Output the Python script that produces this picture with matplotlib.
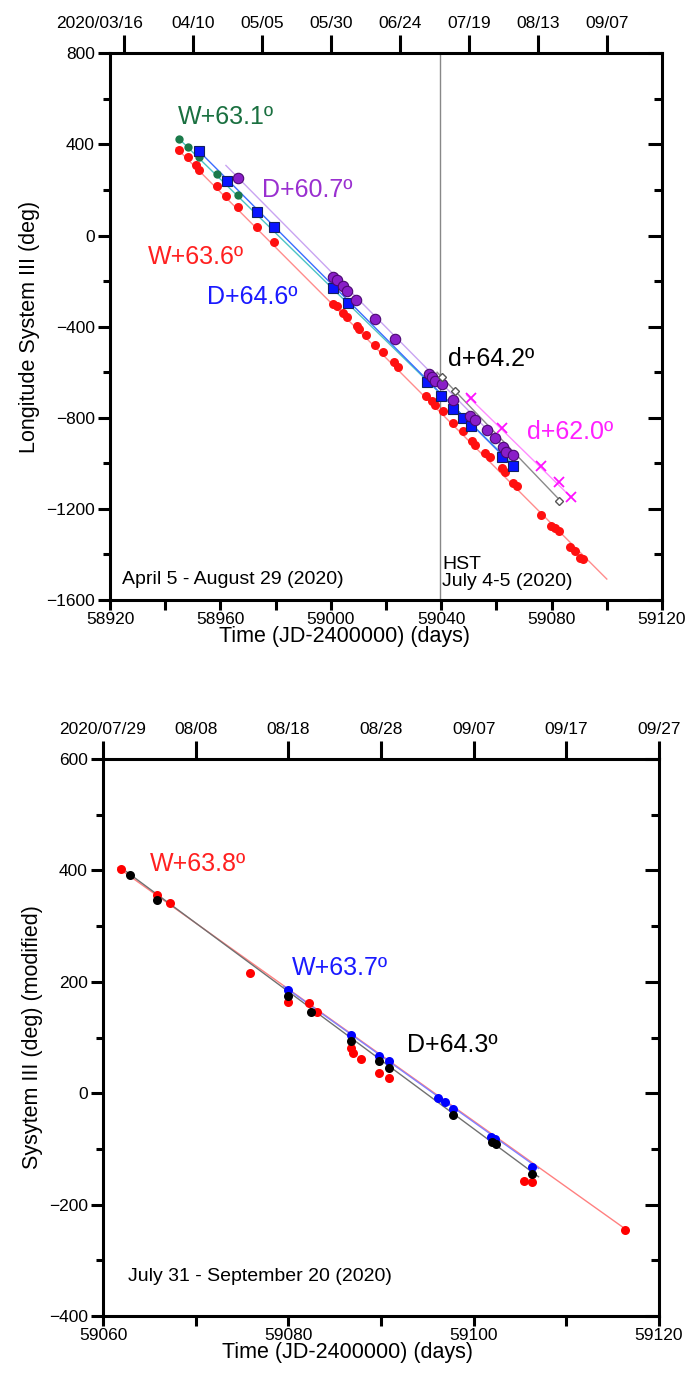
import matplotlib
matplotlib.use("Agg")
import matplotlib.pyplot as plt
import matplotlib.transforms as mtransforms
import numpy as np

plt.rcParams['font.family'] = ['Liberation Sans', 'DejaVu Sans']

# ---------- top panel data ----------
w631_x = [58945.1, 58948.4, 58952.4, 58958.9, 58966.4]
w631_y = [424, 390, 347, 270, 178]

w636_x = [58945.1, 58948.4, 58951.2, 58952.4, 58958.6, 58962.2, 58966.4, 58973.4, 58979.5,
          59000.9, 59002.4, 59004.3, 59005.8, 59009.4, 59010.2, 59012.8, 59016.1, 59019.0,
          59022.9, 59024.2, 59034.4, 59036.6, 59037.8, 59040.8, 59044.4, 59048.0, 59051.0,
          59052.2, 59055.9, 59057.7, 59061.9, 59063.1, 59066.1, 59067.4, 59076.0, 59079.7,
          59081.2, 59082.8, 59086.7, 59088.3, 59090.3, 59091.3]
w636_y = [376, 347, 310, 288, 219, 174, 127, 39, -29,
          -301, -311, -338, -358, -396, -410, -435, -479, -512,
          -556, -578, -706, -728, -742, -771, -822, -860, -903,
          -918, -955, -974, -1020, -1040, -1086, -1098, -1226, -1277,
          -1285, -1297, -1366, -1384, -1414, -1421]

d646_x = [58952.4, 58962.3, 58973.4, 58979.5, 59000.9, 59006.1, 59035.0, 59040.0, 59044.4,
          59048.0, 59050.8, 59062.2, 59065.9]
d646_y = [372, 241, 105, 38, -228, -295, -645, -703, -762, -799, -836, -972, -1011]

d607_x = [58966.4, 59000.9, 59002.4, 59004.3, 59006.0, 59009.1, 59016.1, 59023.4, 59035.5,
          59036.6, 59037.8, 59040.2, 59044.4, 59050.4, 59052.2, 59056.5, 59059.5, 59062.3,
          59063.5, 59065.9]
d607_y = [254, -182, -193, -222, -243, -283, -367, -455, -608,
          -620, -637, -652, -721, -794, -809, -852, -889, -929, -948, -965]

d642_x = [59040.2, 59044.9, 59082.8]
d642_y = [-621, -684, -1164]

d620_x = [59050.8, 59062.1, 59076.2, 59082.6, 59086.9]
d620_y = [-712, -843, -1012, -1082, -1148]

# drift-rate fit lines (end points)
w636_fit_x, w636_fit_y = [58944, 59100], [385, -1508]
w631_fit_x, w631_fit_y = [58945, 59066], [425, -1005]
d646_fit_x, d646_fit_y = [58951.5, 59066], [380, -1011]
d607_fit_x, d607_fit_y = [58962, 59067], [308, -978]
d642_fit_x, d642_fit_y = [59038.5, 59083], [-600, -1162]
d620_fit_x, d620_fit_y = [59049.2, 59087], [-700, -1148]

hst_jd = 59039.5
top_dates = ['2020/03/16', '04/10', '05/05', '05/30', '06/24', '07/19', '08/13', '09/07']
top_date_jd = [58925, 58950, 58975, 59000, 59025, 59050, 59075, 59100]

# ---------- bottom panel data ----------
w638_x = [59061.9, 59065.8, 59067.2, 59075.9, 59080.0, 59082.2, 59083.1, 59086.8, 59087.0,
          59087.8, 59089.8, 59090.9, 59105.4, 59106.3, 59116.3]
w638_y = [402, 356, 342, 216, 163, 162, 145, 81, 73, 61, 36, 27, -157, -159, -245]

w637_x = [59080.0, 59086.8, 59089.8, 59090.9, 59096.2, 59096.9, 59097.8, 59101.9, 59102.3, 59106.3]
w637_y = [186, 105, 67, 57, -8, -15, -28, -78, -82, -132]

d643_x = [59062.9, 59065.8, 59080.0, 59082.5, 59086.8, 59089.8, 59090.9, 59097.8, 59102.0,
          59102.4, 59106.3]
d643_y = [392, 347, 175, 145, 93, 57, 45, -39, -88, -92, -145]

w638_fit_x, w638_fit_y = [59061.6, 59116.3], [405, -243]
w637_fit_x, w637_fit_y = [59079.5, 59107], [192, -135]
d643_fit_x, d643_fit_y = [59062.5, 59107], [398, -150]

bot_dates = ['2020/07/29', '08/08', '08/18', '08/28', '09/07', '09/17', '09/27']
bot_date_jd = [59060, 59070, 59080, 59090, 59100, 59110, 59120]


def style_axes(ax, dates, date_jd):
    for s in ax.spines.values():
        s.set_linewidth(2.2)
    ax.tick_params(which='both', direction='out', width=2.2, labelsize=12.5, pad=2)
    ax.tick_params(axis='x', which='both', length=7)
    ax.tick_params(axis='y', which='major', length=9)
    ax.tick_params(axis='y', which='minor', length=5)
    top = ax.secondary_xaxis('top')
    top.set_xticks(date_jd)
    top.set_xticklabels(dates)
    top.tick_params(direction='out', length=13, width=2.2, labelsize=12.5, pad=3)
    right = ax.secondary_yaxis('right')
    right.set_yticks(ax.get_yticks(minor=True), minor=True)
    right.set_yticks(ax.get_yticks())
    right.set_yticklabels([])
    right.tick_params(which='both', direction='in', width=2.2)
    right.tick_params(which='major', length=10)
    right.tick_params(which='minor', length=6)
    return top


fig = plt.figure(figsize=(6.86, 13.9), dpi=100)

# ================= top panel =================
ax = fig.add_axes([110/686, 1 - 600/1390, 552/686, 546.6/1390])
ax.plot(w636_fit_x, w636_fit_y, color='#ff8c8c', lw=1, zorder=2)
ax.plot(w631_fit_x, w631_fit_y, color='#4cc4c4', lw=1, zorder=2)
ax.plot(d646_fit_x, d646_fit_y, color='#3a6cff', lw=1, zorder=2)
ax.plot(d607_fit_x, d607_fit_y, color='#c9a4f2', lw=1, zorder=2)
ax.plot(d642_fit_x, d642_fit_y, color='#8a8a8a', lw=1, zorder=2)
ax.plot(d620_fit_x, d620_fit_y, color='#ff8cff', lw=1, zorder=2)
ax.axvline(hst_jd, color='#888888', lw=1, zorder=1)

ax.plot(w636_x, w636_y, 'o', color='#ff1010', ms=6.5, mec='none', zorder=3)
ax.plot(w631_x, w631_y, 'o', color='#1a7a4a', ms=6, mec='none', zorder=3)
ax.plot(d646_x, d646_y, 's', color='#0a14ff', ms=6.5, mec='#102060', mew=0.8, zorder=4)
ax.plot(d607_x, d607_y, 'o', color='#8a1ec8', ms=7.5, mec='#4a0870', mew=0.8, zorder=5)
ax.plot(d642_x, d642_y, 'D', color='white', ms=4.5, mec='#555555', mew=1, zorder=6)
ax.plot(d620_x, d620_y, 'x', color='#ff10ff', ms=7, mew=1.3, zorder=6)

ax.text(58944.5, 522, 'W+63.1º', color='#1a7040', fontsize=18, va='center')
ax.text(58975, 200, 'D+60.7º', color='#9a30d0', fontsize=18, va='center')
ax.text(58933.8, -93, 'W+63.6º', color='#ff2020', fontsize=18, va='center')
ax.text(58955.1, -270, 'D+64.6º', color='#1a1aff', fontsize=18, va='center')
ax.text(59042.4, -542, 'd+64.2º', color='black', fontsize=18, va='center')
ax.text(59071.1, -862, 'd+62.0º', color='#ff20ff', fontsize=18, va='center')
ax.text(58924.3, -1512, 'April 5 - August 29 (2020)', fontsize=14, va='center')
ax.text(59040.3, -1482, 'HST\nJuly 4-5 (2020)', fontsize=14, va='center', linespacing=1.05)

ax.set_xlim(58920, 59120)
ax.set_ylim(-1600, 800)
ax.set_xticks(np.arange(58920, 59121, 40))
ax.set_xticks(np.arange(58920, 59121, 20), minor=True)
ax.set_yticks(np.arange(-1600, 801, 400))
ax.set_yticks(np.arange(-1600, 801, 200), minor=True)
ax.set_xlabel('Time (JD-2400000) (days)', fontsize=15.5, labelpad=0)
ax.xaxis.set_label_coords(0.424, -0.047)
ax.set_ylabel('Longitude System III (deg)', fontsize=15.5, labelpad=4)
top1 = style_axes(ax, top_dates, top_date_jd)
first = top1.get_xticklabels()[0]
first.set_transform(first.get_transform() +
                    mtransforms.ScaledTranslation(-0.24, 0, fig.dpi_scale_trans))

# ================= bottom panel =================
ax2 = fig.add_axes([103/686, 1 - 1316/1390, 556/686, 557/1390])
ax2.plot(w638_fit_x, w638_fit_y, color='#ff8080', lw=1, zorder=2)
ax2.plot(d643_fit_x, d643_fit_y, color='#707070', lw=1, zorder=2)
ax2.plot(w637_fit_x, w637_fit_y, color='#8080ff', lw=1, zorder=2)

ax2.plot(w638_x, w638_y, 'o', color='#ff0000', ms=6.5, mec='none', zorder=3)
ax2.plot(w637_x, w637_y, 'o', color='#0000ff', ms=6.5, mec='none', zorder=4)
ax2.plot(d643_x, d643_y, 'o', color='#000000', ms=6.5, mec='none', zorder=5)

ax2.text(59065.1, 412, 'W+63.8º', color='#ff2020', fontsize=18, va='center')
ax2.text(59080.4, 225, 'W+63.7º', color='#1a1aff', fontsize=18, va='center')
ax2.text(59092.8, 87, 'D+64.3º', color='black', fontsize=18, va='center')
ax2.text(59062.7, -329, 'July 31 - September 20 (2020)', fontsize=14, va='center')

ax2.set_xlim(59060, 59120)
ax2.set_ylim(-400, 600)
ax2.set_xticks(np.arange(59060, 59121, 20))
ax2.set_xticks(np.arange(59060, 59121, 10), minor=True)
ax2.set_yticks(np.arange(-400, 601, 200))
ax2.set_yticks(np.arange(-400, 601, 100), minor=True)
ax2.set_xlabel('Time (JD-2400000) (days)', fontsize=15.5, labelpad=0)
ax2.xaxis.set_label_coords(0.439, -0.047)
ax2.set_ylabel('Sysytem III (deg) (modified)', fontsize=15.5, labelpad=4)
style_axes(ax2, bot_dates, bot_date_jd)

fig.savefig('out.png', dpi=100)
